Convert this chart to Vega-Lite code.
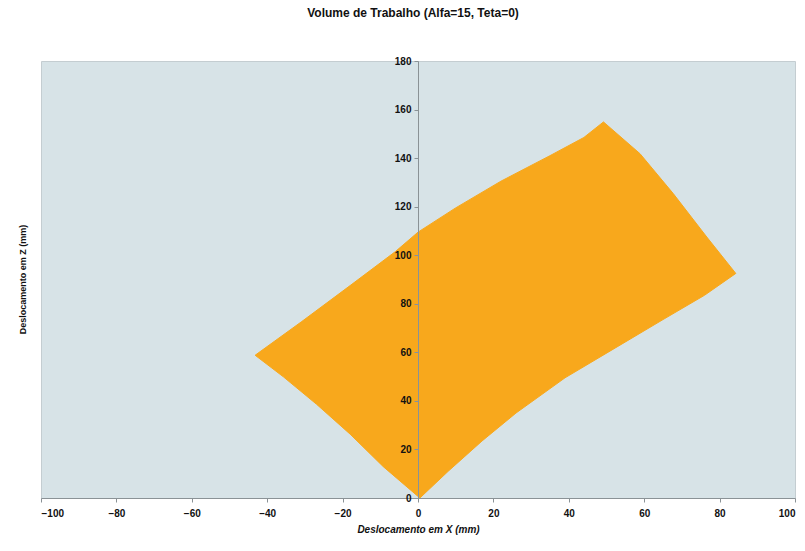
{
  "$schema": "https://vega.github.io/schema/vega-lite/v6.json",
  "width": 754,
  "height": 437,
  "autosize": {"type": "none"},
  "padding": {"left": 41, "top": 61, "right": 10, "bottom": 53},
  "background": "white",
  "title": {
    "text": "Volume de Trabalho (Alfa=15, Teta=0)",
    "font": "Liberation Sans",
    "fontSize": 12,
    "fontWeight": "bold",
    "color": "#111111",
    "anchor": "middle",
    "offset": 36,
    "dx": -5
  },
  "config": {
    "view": {"fill": "#d7e3e7", "stroke": "#c4cdd1", "strokeWidth": 1}
  },
  "data": {
    "values": [
      {"i": 0, "x": 0.5, "z": 0},
      {"i": 1, "x": -9.2, "z": 12.9},
      {"i": 2, "x": -18.0, "z": 26.3},
      {"i": 3, "x": -26.9, "z": 38.6},
      {"i": 4, "x": -35.7, "z": 49.9},
      {"i": 5, "x": -43.2, "z": 58.8},
      {"i": 6, "x": -31.0, "z": 72.5},
      {"i": 7, "x": -18.0, "z": 87.5},
      {"i": 8, "x": -6.0, "z": 101.5},
      {"i": 9, "x": 0.0, "z": 109.5},
      {"i": 10, "x": 10.0, "z": 119.5},
      {"i": 11, "x": 22.0, "z": 130.5},
      {"i": 12, "x": 35.0, "z": 141.0},
      {"i": 13, "x": 44.0, "z": 148.5},
      {"i": 14, "x": 49.2, "z": 154.9},
      {"i": 15, "x": 58.9, "z": 141.8},
      {"i": 16, "x": 67.7, "z": 125.4},
      {"i": 17, "x": 76.6, "z": 107.5},
      {"i": 18, "x": 84.3, "z": 92.5},
      {"i": 19, "x": 76.0, "z": 83.5},
      {"i": 20, "x": 65.0, "z": 73.5},
      {"i": 21, "x": 52.0, "z": 61.5},
      {"i": 22, "x": 39.0, "z": 49.5},
      {"i": 23, "x": 26.0, "z": 35.0},
      {"i": 24, "x": 17.0, "z": 23.5},
      {"i": 25, "x": 8.0, "z": 11.0},
      {"i": 26, "x": 0.5, "z": 0}
    ]
  },
  "mark": {"type": "line", "fill": "#f8a81c", "stroke": "#f8a81c", "strokeWidth": 1, "interpolate": "linear"},
  "encoding": {
    "order": {"field": "i", "type": "quantitative"},
    "x": {
      "field": "x",
      "type": "quantitative",
      "scale": {"domain": [-100, 100], "nice": false, "zero": false},
      "axis": {
        "values": [-100, -80, -60, -40, -20, 0, 20, 40, 60, 80, 100],
        "grid": false,
        "title": "Deslocamento em X (mm)",
        "titleFont": "Liberation Sans",
        "titleFontSize": 10,
        "titleFontWeight": "bold",
        "titleFontStyle": "italic",
        "titleColor": "#111111",
        "titlePadding": 6,
        "labelFont": "Liberation Sans",
        "labelFontSize": 10,
        "labelFontWeight": "bold",
        "labelColor": "#111111",
        "labelPadding": 6,
        "domainColor": "#8a9296",
        "tickColor": "#8a9296",
        "tickSize": 4,
        "zindex": 1
      }
    },
    "y": {
      "field": "z",
      "type": "quantitative",
      "scale": {"domain": [0, 180], "nice": false},
      "axis": {
        "values": [0, 20, 40, 60, 80, 100, 120, 140, 160, 180],
        "grid": false,
        "offset": -377,
        "title": "Deslocamento em Z (mm)",
        "titleX": -396,
        "titleY": 218,
        "titleAlign": "center",
        "titleBaseline": "middle",
        "titleAngle": -90,
        "titleFont": "Liberation Sans",
        "titleFontSize": 9,
        "titleFontWeight": "bold",
        "titleColor": "#111111",
        "labelFont": "Liberation Sans",
        "labelFontSize": 10,
        "labelFontWeight": "bold",
        "labelColor": "#111111",
        "labelPadding": 3,
        "domainColor": "#8a9296",
        "tickColor": "#8a9296",
        "tickSize": 4,
        "zindex": 1
      }
    }
  }
}
